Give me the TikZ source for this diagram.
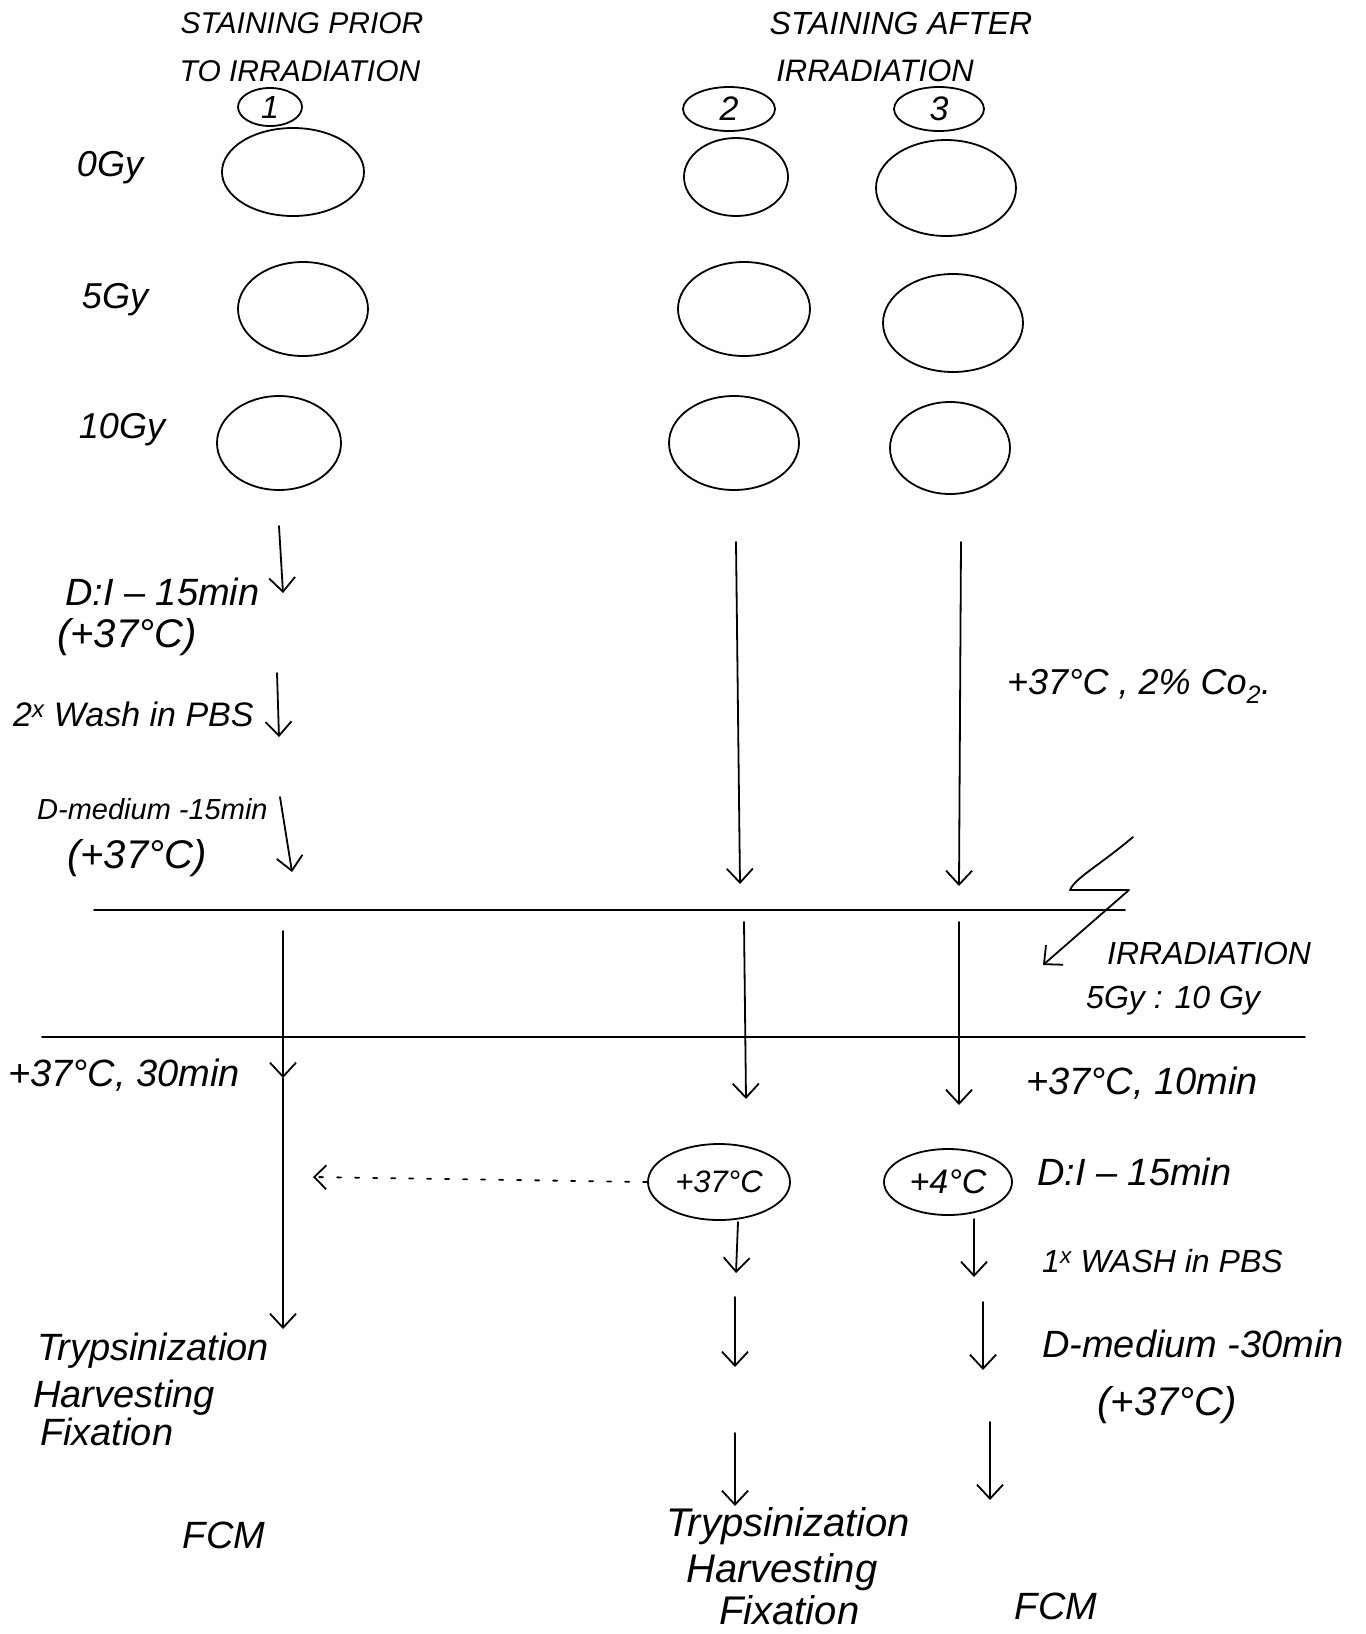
\documentclass[tikz,border=0pt]{standalone}
\usepackage{fontspec}
\setmainfont{Liberation Sans}
\usetikzlibrary{arrows.meta,shapes.geometric}
\newcommand\fsz[1]{\fontsize{#1}{#1}\selectfont\itshape}
\tikzset{
  pen/.style={line width=1.8pt, line cap=round, line join=round},
  arr/.style={pen, -{Straight Barb[length=14pt,width=26pt,line width=1.8pt]}},
  dish/.style={draw, ellipse, pen, inner sep=0pt},
  lbl/.style={inner sep=0pt, anchor=mid west},
  ctr/.style={inner sep=0pt, anchor=center},
}
\begin{document}
\begin{tikzpicture}[x=1pt,y=-1pt]
\fill[white] (0,0) rectangle (1366,1634);
\useasboundingbox (0,0) rectangle (1366,1634);

% headings
\node[ctr, font=\fsz{30}] (h1a) at (302,23) {STAINING PRIOR};
\node[ctr, font=\fsz{30}] (h1b) at (300,71) {TO IRRADIATION};
\node[ctr, font=\fsz{32}] (h2a) at (901,23) {STAINING AFTER};
\node[ctr, font=\fsz{31}] (h2b) at (875,71) {IRRADIATION};

% column numbers
\node[dish, minimum width=64pt, minimum height=38pt, font=\fsz{32}] (n1) at (270,107) {1};
\node[dish, minimum width=92pt, minimum height=44pt, font=\fsz{34}] (n2) at (729,109) {2};
\node[dish, minimum width=90pt, minimum height=44pt, font=\fsz{34}] (n3) at (939,109) {3};

% dose labels
\node[ctr, font=\fsz{36}] (g0) at (110,168) {0Gy};
\node[ctr, font=\fsz{36}] (g5) at (115,300) {5Gy};
\node[ctr, font=\fsz{36}] (g10) at (122,430) {10Gy};

% dishes
\node[dish, minimum width=142pt, minimum height=88pt] (d10) at (293,172) {};
\node[dish, minimum width=130pt, minimum height=94pt] (d15) at (303,309) {};
\node[dish, minimum width=124pt, minimum height=94pt] (d110) at (279,443) {};
\node[dish, minimum width=104pt, minimum height=78pt] (d20) at (736,177) {};
\node[dish, minimum width=132pt, minimum height=94pt] (d25) at (744,309) {};
\node[dish, minimum width=130pt, minimum height=94pt] (d210) at (734,443) {};
\node[dish, minimum width=140pt, minimum height=96pt] (d30) at (946,188) {};
\node[dish, minimum width=140pt, minimum height=98pt] (d35) at (953,323) {};
\node[dish, minimum width=120pt, minimum height=92pt] (d310) at (950,448) {};

% horizontal lines
\coordinate (l1a) at (94,910);  \coordinate (l1b) at (1125,910);
\coordinate (l2a) at (42,1037); \coordinate (l2b) at (1305,1037);
\draw[pen] (l1a) -- (l1b);
\draw[pen] (l2a) -- (l2b);

% column 1 before irradiation
\coordinate (c1a) at (279,526); \coordinate (c1b) at (283,593);
\coordinate (c1c) at (277,673); \coordinate (c1d) at (279,737);
\coordinate (c1e) at (280,797); \coordinate (c1f) at (292,872);
\draw[arr] (c1a) -- (c1b);
\draw[arr] (c1c) -- (c1d);
\draw[arr] (c1e) -- (c1f);
\node[lbl, font=\fsz{38}] (t1) at (65,603) {D:I -- 15min};
\node[lbl, font=\fsz{40}] (t2) at (57,645) {(+37°C)};
\node[lbl, font=\fsz{34}] (t3) at (13,724) {2\textsuperscript{x} Wash in PBS};
\node[lbl, font=\fsz{29}] (t4) at (37,817) {D-medium -15min};
\node[lbl, font=\fsz{40}] (t5) at (67,866) {(+37°C)};

% column 1 after irradiation
\coordinate (c1g) at (283,931); \coordinate (c1h) at (283,1078);
\coordinate (c1i) at (283,1329);
\draw[arr] (c1g) -- (c1h);
\draw[arr] (c1h) -- (c1i);
\node[lbl, font=\fsz{38}] (t6) at (8,1084) {+37°C, 30min};
\node[lbl, font=\fsz{38}] (t7) at (37,1358) {Trypsinization};
\node[lbl, font=\fsz{38}] (t8) at (33,1405) {Harvesting};
\node[lbl, font=\fsz{38}] (t9) at (40,1443) {Fixation};
\node[ctr, font=\fsz{38}] (t10) at (224,1535) {FCM};

% column 2
\coordinate (c2a) at (736,542); \coordinate (c2b) at (740,884);
\coordinate (c2c) at (744,922); \coordinate (c2d) at (746,1099);
\draw[arr] (c2a) -- (c2b);
\draw[arr] (c2c) -- (c2d);
\node[dish, minimum width=142pt, minimum height=76pt, font=\fsz{31}] (e37) at (719,1182) {+37°C};
\coordinate (dl) at (313,1177);
\draw[pen, dash pattern=on 4pt off 14pt, -{Straight Barb[length=12pt,width=24pt,line width=1.8pt]}] (e37.west) -- (dl);
\coordinate (c2e) at (738,1222); \coordinate (c2f) at (736,1273);
\coordinate (c2g) at (735,1297); \coordinate (c2h) at (735,1367);
\coordinate (c2i) at (735,1433); \coordinate (c2j) at (735,1506);
\draw[arr] (c2e) -- (c2f);
\draw[arr] (c2g) -- (c2h);
\draw[arr] (c2i) -- (c2j);
\node[lbl, font=\fsz{40}] (t11) at (666,1534) {Trypsinization};
\node[lbl, font=\fsz{40}] (t12) at (686,1580) {Harvesting};
\node[lbl, font=\fsz{40}] (t13) at (719,1622) {Fixation};

% column 3
\coordinate (c3a) at (961,542); \coordinate (c3b) at (959,886);
\coordinate (c3c) at (959,922); \coordinate (c3d) at (959,1105);
\draw[arr] (c3a) -- (c3b);
\draw[arr] (c3c) -- (c3d);
\node[lbl, font=\fsz{36}] (t14) at (1007,692) {+37°C , 2\% Co\textsubscript{2}.};

% irradiation bolt
\coordinate (b1) at (1133,837); \coordinate (b2) at (1070,890);
\coordinate (b3) at (1129,890); \coordinate (b4) at (1043,965);
\draw[arr] (b1) .. controls (1100,865) and (1075,878) .. (b2) -- (b3) -- (b4);
\node[lbl, font=\fsz{32}] (t15) at (1107,962) {IRRADIATION};
\node[lbl, font=\fsz{32}] (t16) at (1086,1006) {5Gy : 10 Gy};

\node[lbl, font=\fsz{38}] (t17) at (1026,1092) {+37°C, 10min};
\node[dish, minimum width=128pt, minimum height=66pt, font=\fsz{34}] (e4) at (948,1182) {+4°C};
\node[lbl, font=\fsz{38}] (t18) at (1037,1183) {D:I -- 15min};
\coordinate (c3e) at (974,1219); \coordinate (c3f) at (974,1277);
\coordinate (c3g) at (983,1302); \coordinate (c3h) at (983,1370);
\coordinate (c3i) at (990,1422); \coordinate (c3j) at (990,1500);
\draw[arr] (c3e) -- (c3f);
\draw[arr] (c3g) -- (c3h);
\draw[arr] (c3i) -- (c3j);
\node[lbl, font=\fsz{32}] (t19) at (1042,1270) {1\textsuperscript{x} WASH in PBS};
\node[lbl, font=\fsz{38}] (t20) at (1042,1355) {D-medium -30min};
\node[ctr, font=\fsz{40}] (t21) at (1167,1405) {(+37°C)};
\node[ctr, font=\fsz{38}] (t22) at (1056,1606) {FCM};
\end{tikzpicture}
\end{document}
